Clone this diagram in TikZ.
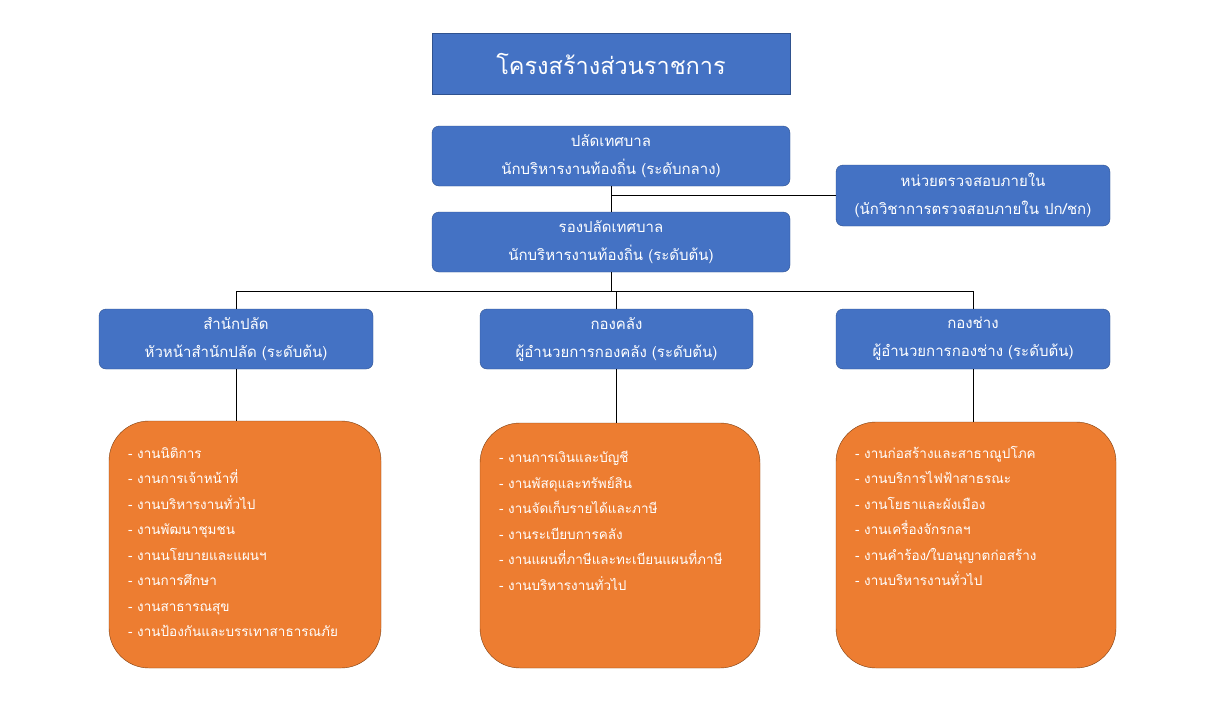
\documentclass[tikz,border=0pt]{standalone}
\usepackage{fontspec}
\setmainfont[Script=Thai]{Loma}
\definecolor{boxblue}{HTML}{4472C4}
\definecolor{boxblueline}{HTML}{2F528F}
\definecolor{boxorange}{HTML}{ED7D31}
\definecolor{boxorangeline}{HTML}{7F3F10}
\begin{document}
\begin{tikzpicture}[x=1pt,y=-1pt,
	unit/.style={draw=boxblueline,fill=boxblue,text=white,rounded corners=7pt,align=center,
		font=\fontsize{15}{28}\selectfont,inner sep=0pt},
	task/.style={draw=boxorangeline,fill=boxorange,rounded corners=40pt},
	tasklist/.style={text=white,align=left,anchor=north west,inner sep=0pt,
		font=\fontsize{13.5}{25.5}\selectfont},
	link/.style={line width=0.8pt}]
		\useasboundingbox[fill=white] (0,0) rectangle (1218,718);
		\node[unit,rounded corners=0pt,minimum width=358,minimum height=61,
		font=\fontsize{23.5}{30}\selectfont] (title) at (611,63.5) {โครงสร้างส่วนราชการ};
		\node[unit,minimum width=358,minimum height=60] (mayor) at (611,156)
		{ปลัดเทศบาล\\นักบริหารงานท้องถิ่น (ระดับกลาง)};
		\node[unit,minimum width=274,minimum height=61] (audit) at (973,195.5)
		{หน่วยตรวจสอบภายใน\\(นักวิชาการตรวจสอบภายใน ปก/ชก)};
		\node[unit,minimum width=358,minimum height=60] (deputy) at (611,242)
		{รองปลัดเทศบาล\\นักบริหารงานท้องถิ่น (ระดับต้น)};
		\node[unit,minimum width=274,minimum height=60] (office) at (236,339)
		{สำนักปลัด\\หัวหน้าสำนักปลัด (ระดับต้น)};
		\node[unit,minimum width=273,minimum height=60] (finance) at (616.5,339)
		{กองคลัง\\ผู้อำนวยการกองคลัง (ระดับต้น)};
		\node[unit,minimum width=274,minimum height=60] (works) at (973,339)
		{กองช่าง\\ผู้อำนวยการกองช่าง (ระดับต้น)};
		\node[task,minimum width=272,minimum height=247] (officejobs) at (245,544.5) {};
		\node[task,minimum width=280,minimum height=245] (financejobs) at (620,545.5) {};
		\node[task,minimum width=280,minimum height=246] (worksjobs) at (976,545) {};
		\node[tasklist] (officelist) at (128,447) {- งานนิติการ\\- งานการเจ้าหน้าที่\\- งานบริหารงานทั่วไป\\- งานพัฒนาชุมชน\\- งานนโยบายและแผนฯ\\- งานการศึกษา\\- งานสาธารณสุข\\- งานป้องกันและบรรเทาสาธารณภัย};
		\node[tasklist] (financelist) at (499,451) {- งานการเงินและบัญชี\\- งานพัสดุและทรัพย์สิน\\- งานจัดเก็บรายได้และภาษี\\- งานระเบียบการคลัง\\- งานแผนที่ภาษีและทะเบียนแผนที่ภาษี\\- งานบริหารงานทั่วไป};
		\node[tasklist] (workslist) at (855,446) {- งานก่อสร้างและสาธาณูปโภค\\- งานบริการไฟฟ้าสาธรณะ\\- งานโยธาและผังเมือง\\- งานเครื่องจักรกลฯ\\- งานคำร้อง/ใบอนุญาตก่อสร้าง\\- งานบริหารงานทั่วไป};
		\coordinate (bus) at (611,291);
		\draw[link] (mayor) -- (deputy);
		\draw[link] (mayor.south |- audit.west) -- (audit.west);
		\draw[link] (deputy) -- (bus);
		\draw[link] (office.north) -- (office.north |- bus) -- (works.north |- bus) -- (works.north);
		\draw[link] (finance.north |- bus) -- (finance.north);
		\draw[link] (office.south) -- (office.south |- officejobs.north);
		\draw[link] (finance.south) -- (finance.south |- financejobs.north);
		\draw[link] (works.south) -- (works.south |- worksjobs.north);
\end{tikzpicture}
\end{document}
